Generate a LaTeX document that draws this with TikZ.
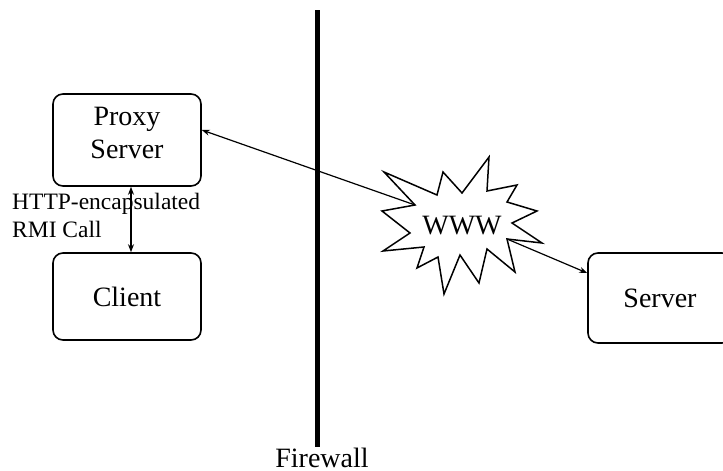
\documentclass[tikz,border=0pt]{standalone}
\usepackage{fontspec}
\setmainfont{Liberation Serif}
\usetikzlibrary{arrows.meta,calc}
\begin{document}
\begin{tikzpicture}[x=1pt,y=-1pt,
  box/.style={draw,line width=1.6pt,rounded corners=10pt,align=center,inner sep=0pt,
    font=\fontsize{28}{33}\selectfont},
  txt/.style={inner sep=0pt,align=center,font=\fontsize{28}{33}\selectfont},
  conn/.style={line width=1.2pt,-{Stealth[length=8pt,width=6pt]}},
  lbl/.style={inner sep=0pt,font=\fontsize{23.5}{28}\selectfont}]
\useasboundingbox (0,0) rectangle (723,471);
\clip (0,0) rectangle (723,471);
% boxes
\node[box,minimum width=148pt,minimum height=92pt] (proxy) at (127,140) {};
\node[txt,anchor=base] (proxytext) at (127,158) {Proxy\\Server};
\node[box,minimum width=148pt,minimum height=87pt] (client) at (127,296.5) {Client};
\node[box,minimum width=144pt,minimum height=90pt] (server) at (660,298) {Server};
% burst
\draw[line width=1.5pt,fill=white,line join=miter]
  (384,172) -- (437,195) -- (443,172) -- (462,193) -- (489,157) -- (487,191)
  -- (517,185) -- (507,202) -- (537,211) -- (512,223) -- (542,243) -- (507,239)
  -- (515,272) -- (487,249) -- (479,283) -- (460,255) -- (444,294) -- (438,257)
  -- (417,268) -- (424,247) -- (383,251) -- (410,233) -- (382,211) -- (415,205) -- cycle;
\node[txt] (www) at (462,226) {WWW};
\coordinate (bl) at (415,205);
\coordinate (br) at (507,239);
% firewall
\coordinate (fwtop) at (317,10);
\coordinate (fwbot) at (317,447);
\draw[line width=5pt] (fwtop) -- (fwbot);
\node[txt,anchor=base] (fw) at (322,467) {Firewall};
% connectors
\draw[conn] (bl) -- ($(proxy.east)+(0,-10)$);
\draw[conn] (br) -- ($(server.west)+(0,-25)$);
\draw[line width=1.2pt,{Stealth[length=8pt,width=6pt]}-{Stealth[length=8pt,width=6pt]}]
  ($(proxy.south)+(4,0)$) -- ($(client.north)+(4,0)$);
\node[lbl,anchor=base west,align=left] (http) at (12,237) {HTTP-encapsulated\\RMI Call};
\end{tikzpicture}
\end{document}
